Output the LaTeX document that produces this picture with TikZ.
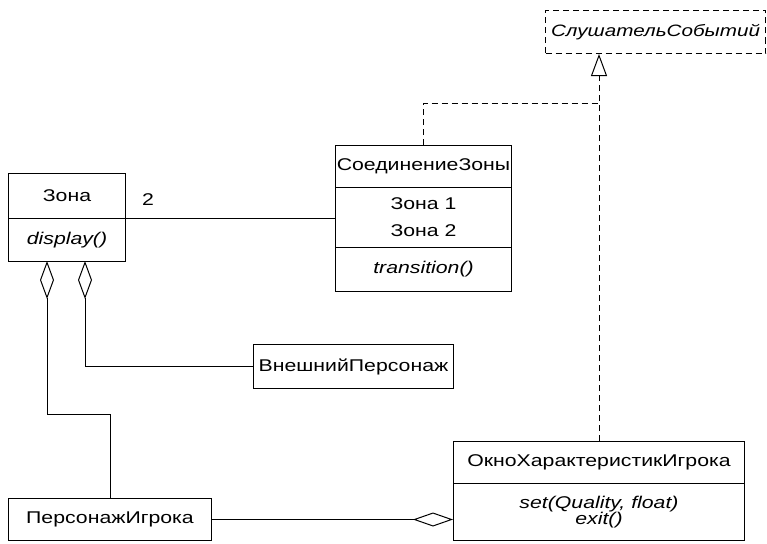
\documentclass[tikz,border=0pt]{standalone}
\usepackage{fontspec}
\setmainfont{Liberation Sans}[FakeStretch=1.25]
\usetikzlibrary{arrows.meta}

\begin{document}
\begin{tikzpicture}[x=1pt,y=-1pt,
  box/.style={draw, line width=1pt, anchor=north west, inner sep=0pt, align=center,
    font=\fontsize{17}{20}\selectfont},
  conn/.style={line width=1pt},
  realize/.style={line width=1pt, dash pattern=on 6pt off 4pt},
  aggr/.style={{Diamond[open,length=38pt,width=14pt]}-}]
\useasboundingbox (0,0) rectangle (767,543);
% classes
\node[box, minimum width=117pt, minimum height=45pt] (zona) at (8,173) {Зона};
\node[box, minimum width=117pt, minimum height=43pt] (zonaops) at (8,218) {\itshape display()};
\node[box, minimum width=176pt, minimum height=42pt] (soed) at (335,145) {СоединениеЗоны};
\node[box, minimum width=176pt, minimum height=60pt] (soedattr) at (335,187) {Зона 1\\[7pt]Зона 2};
\node[box, minimum width=176pt, minimum height=44pt] (soedops) at (335,247) {\itshape transition()};
\node[box, dash pattern=on 6pt off 4pt, minimum width=220pt, minimum height=43pt,
  font=\fontsize{16.5}{20}\selectfont] (lst) at (545,10) {\itshape СлушательСобытий};
\node[box, minimum width=200pt, minimum height=44pt] (vnesh) at (253,344) {ВнешнийПерсонаж};
\node[box, minimum width=203pt, minimum height=42pt] (pers) at (8,498) {ПерсонажИгрока};
\node[box, minimum width=291pt, minimum height=42pt] (okno) at (453,441) {ОкноХарактеристикИгрока};
\node[box, minimum width=291pt, minimum height=57pt] (oknoops) at (453,483) {\itshape set(Quality, float)\\[-4pt]\itshape exit()};
% association with multiplicity
\draw[conn] (zonaops.north east) -- (zonaops.north east -| soedattr.west);
\node[font=\fontsize{17}{20}\selectfont] (mult) at (148,200) {2};
% aggregations
\coordinate (agg1) at (47,261);
\coordinate (agg2) at (85,261);
\draw[conn, aggr] (agg1) -- (47,414) -| (pers.north);
\draw[conn, aggr] (agg2) |- (vnesh.west);
\draw[conn, {Diamond[open,length=40pt,width=14pt]}-] (pers.east -| oknoops.west) -- (pers.east);
% realization
\coordinate (tip) at (okno.north |- lst.south);
\coordinate (joint) at (599,103);
\draw[realize, -{Triangle[open,length=22pt,width=16pt]}] (okno.north) -- (tip);
\draw[realize] (soed.north) |- (joint);
\end{tikzpicture}
\end{document}
